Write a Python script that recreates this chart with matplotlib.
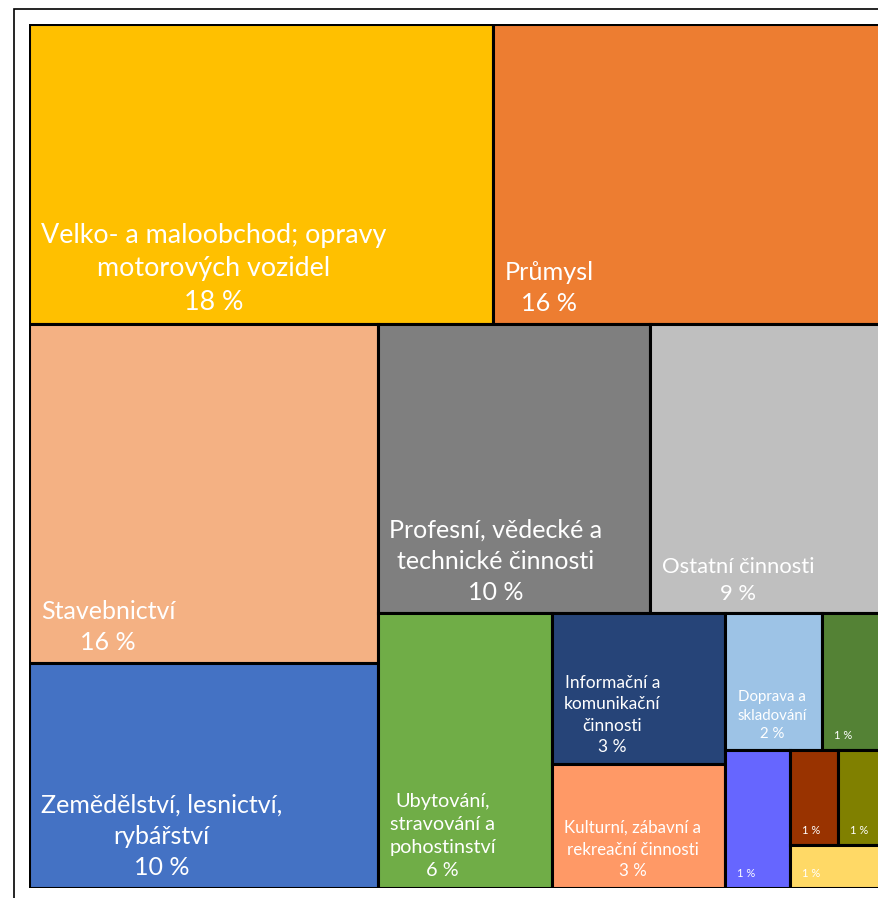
import matplotlib
matplotlib.use("Agg")
import matplotlib.pyplot as plt
from matplotlib.patches import Rectangle

# sector shares (%), in the order the treemap lays them out
sectors = ["Velko- a maloobchod; opravy\nmotorových vozidel", "Průmysl", "Stavebnictví",
           "Zemědělství, lesnictví,\nrybářství", "Profesní, vědecké a\ntechnické činnosti",
           "Ostatní činnosti", "Ubytování,\nstravování a\npohostinství",
           "Informační a\nkomunikační\nčinnosti", "Kulturní, zábavní a\nrekreační činnosti",
           "Doprava a\nskladování", "", "", "", "", ""]
shares = [18.49, 16.11, 15.73, 10.41, 10.45, 9.49, 6.39, 3.49, 2.85, 1.77, 1.37, 1.19, 0.60, 0.74, 0.61]
colors = ["#FFC000", "#ED7D31", "#F4B183", "#4472C4", "#7F7F7F", "#BFBFBF", "#70AD47",
          "#264478", "#FF9966", "#9DC3E6", "#548235", "#6666FF", "#993300", "#808000", "#FFD966"]

# how the tiles are grouped into strips (count, direction)
strips = [(2, "h"), (2, "v"), (2, "h"), (1, "v"), (2, "v"), (2, "h"), (1, "v"), (2, "h"), (1, "h")]
font_pt = [19.4, 18.2, 18, 18, 18, 15.8, 14.3, 12.5, 12.2, 10.8, 8, 8, 8, 8, 8]

plt.rcParams['font.family'] = ['Lato', 'DejaVu Sans']

FW, FH = 879, 898
fig = plt.figure(figsize=(FW / 100, FH / 100), dpi=100)
left, top, right, bottom = 29, 24, 897, 888
ax = fig.add_axes([left / FW, 1 - bottom / FH, (right - left) / FW, (bottom - top) / FH])
W, H = right - left, bottom - top


def strip_layout(values, strips, x, y, w, h):
    scale = w * h / sum(values)
    rects, i = [], 0
    for n, d in strips:
        chunk = values[i:i + n]
        s = sum(chunk)
        if d == "h":
            rh = s * scale / w
            cx = x
            for v in chunk:
                cw = v / s * w
                rects.append((cx, y, cw, rh))
                cx += cw
            y += rh
            h -= rh
        else:
            cw = s * scale / h
            cy = y
            for v in chunk:
                ch = v / s * h
                rects.append((x, cy, cw, ch))
                cy += ch
            x += cw
            w -= cw
        i += n
    return rects


rects = strip_layout(shares, strips, 0, 0, W, H)
for (x, y, w, h), name, val, col, fs in zip(rects, sectors, shares, colors, font_pt):
    ax.add_patch(Rectangle((x, y), w, h, facecolor=col, edgecolor="black", lw=2.2))
    label = f"{round(val)} %" if name == "" else f"{name}\n{round(val)} %"
    ax.annotate(label, xy=(x, y + h), xytext=(8.5, 6.5), textcoords="offset points",
                ha="left", va="bottom", multialignment="center", color="white",
                fontsize=fs, linespacing=1.42)

ax.set_xlim(0, W)
ax.set_ylim(H, 0)
ax.axis("off")

# chart area frame (runs off the crop on the right and bottom)
fig.add_artist(Rectangle((14 / FW, -0.1), 2, 1.1 - 9 / FH, transform=fig.transFigure,
                         fill=False, edgecolor="black", lw=1.2))

fig.savefig("out.png", dpi=100)
